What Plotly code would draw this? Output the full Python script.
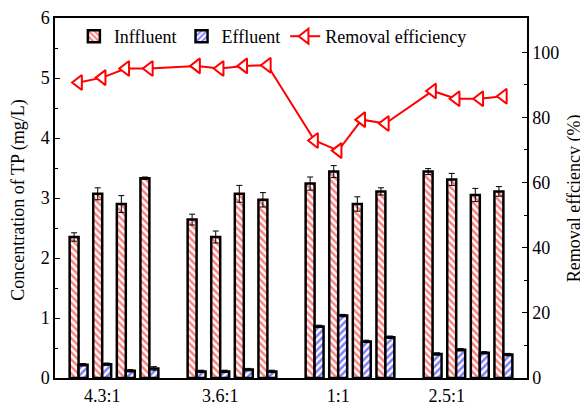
import plotly.graph_objects as go

ratios = ["4.3:1", "3.6:1", "1:1", "2.5:1"]
ratio_tick_pos = [1.0, 6.0, 11.0, 15.6]
# sample positions: 4 groups x 4 samples
positions = [0, 1, 2, 3, 5, 6, 7, 8, 10, 11, 12, 13, 15, 16, 17, 18]

influent = [2.35, 3.07, 2.90, 3.33, 2.64, 2.35, 3.07, 2.97,
            3.24, 3.44, 2.90, 3.11, 3.44, 3.31, 3.05, 3.11]
influent_err = [0.07, 0.10, 0.14, 0.02, 0.09, 0.10, 0.14, 0.12,
                0.11, 0.10, 0.12, 0.06, 0.05, 0.10, 0.11, 0.08]
effluent = [0.22, 0.23, 0.12, 0.16, 0.11, 0.11, 0.14, 0.11,
            0.86, 1.04, 0.61, 0.68, 0.40, 0.47, 0.42, 0.39]
effluent_err = [0.02, 0.02, 0.02, 0.03, 0.02, 0.02, 0.02, 0.02,
                0.02, 0.02, 0.02, 0.02, 0.02, 0.02, 0.02, 0.02]
removal = [90.7, 92.2, 95.0, 95.0, 95.8, 95.0, 95.8, 96.0,
           72.9, 69.8, 79.3, 78.1, 88.1, 85.7, 85.7, 86.5]

FONT = "Liberation Serif, Times New Roman, serif"
FS = 18
BW = 0.38

fig = go.Figure()
fig.add_trace(go.Bar(
    x=positions, y=influent, name="Inffluent", width=BW, offset=-BW,
    marker=dict(color="white", line=dict(color="black", width=2.5),
                pattern=dict(shape="\\", fgcolor="red", bgcolor="white", size=5, solidity=0.5)),
    error_y=dict(type="data", array=influent_err, color="black", thickness=1, width=3),
))
fig.add_trace(go.Bar(
    x=positions, y=effluent, name="Effluent", width=BW, offset=0,
    marker=dict(color="white", line=dict(color="black", width=2.5),
                pattern=dict(shape="/", fgcolor="blue", bgcolor="white", size=5, solidity=0.5)),
    error_y=dict(type="data", array=effluent_err, color="black", thickness=1, width=3),
))
fig.add_trace(go.Scatter(
    x=positions, y=removal, name="Removal efficiency", yaxis="y2",
    mode="lines+markers",
    line=dict(color="red", width=2),
    marker=dict(symbol="triangle-left", size=13, color="white", line=dict(width=2, color="red")),
))

fig.update_layout(
    width=580, height=403,
    margin=dict(l=55, r=53, t=18, b=25, autoexpand=False),
    paper_bgcolor="white", plot_bgcolor="white",
    font=dict(family=FONT, size=FS, color="black"),
    barmode="overlay",
    showlegend=True,
    legend=dict(orientation="h", x=0.04, y=1.0, xanchor="left", yanchor="top",
                bgcolor="rgba(0,0,0,0)", font=dict(family=FONT, size=FS),
                itemwidth=30, tracegroupgap=0),
    xaxis=dict(range=[-1, 19], tickmode="array", tickvals=ratio_tick_pos, ticktext=ratios,
               showgrid=False, zeroline=False, showline=True, linecolor="black", linewidth=2,
               mirror=True, ticks="", automargin=False, tickfont=dict(family=FONT, size=FS)),
    yaxis=dict(range=[0, 6], dtick=1, showgrid=False, zeroline=False, showline=True,
               linecolor="black", linewidth=1.5, ticks="inside", ticklen=5, tickcolor="black",
               minor=dict(dtick=0.5, ticks="inside", ticklen=3, tickcolor="black"),
               automargin=False, tickfont=dict(family=FONT, size=FS)),
    yaxis2=dict(range=[0, 110.5], tickvals=[0, 20, 40, 60, 80, 100], overlaying="y", side="right",
                showgrid=False, zeroline=False, showline=True, linecolor="black", linewidth=1.5,
                ticks="inside", ticklen=5, tickcolor="black",
                minor=dict(tickvals=[10, 30, 50, 70, 90], ticks="inside", ticklen=3, tickcolor="black"),
                automargin=False, tickfont=dict(family=FONT, size=FS)),
    annotations=[
        dict(text="Concentration of TP (mg/L)", textangle=-90, xref="paper", yref="paper",
             x=-0.078, y=0.493, xanchor="center", yanchor="middle", showarrow=False,
             font=dict(family=FONT, size=FS)),
        dict(text="Removal effciency (%)", textangle=-90, xref="paper", yref="paper",
             x=1.1, y=0.50, xanchor="center", yanchor="middle", showarrow=False,
             font=dict(family=FONT, size=FS)),
    ],
)

fig.write_html("out.html", config={"displayModeBar": False},
               post_script="document.body.style.margin='0';")
